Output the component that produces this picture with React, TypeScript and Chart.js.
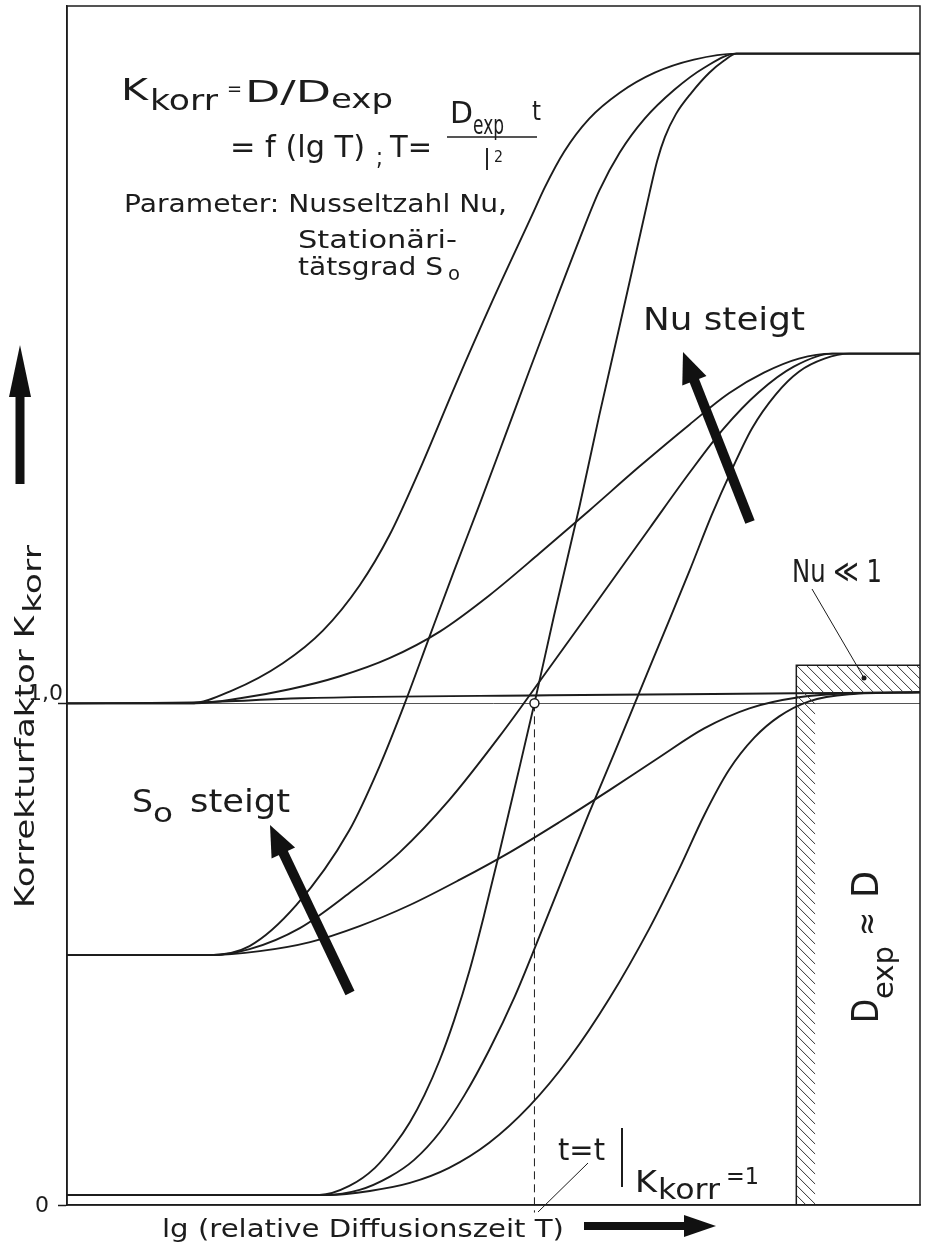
import { useEffect, useRef } from "react";
import { Chart, registerables } from "chart.js";

Chart.register(...registerables);

const FONT = '"DejaVu Sans", "Liberation Sans", sans-serif';
const INK = "#1c1c1c";

// axes (x: lg T, arbitrary units; y: K_korr)
const xRange = [0, 10];
const yRange = [0, 2.39];
const yTickValues = [0, 1];
const yTickLabels = ["0", "1,0"];

// start K = 1 (left plateau at 1,0)
const s1NuHighX = [0, 1.44, 1.94, 2.53, 3.0, 3.43, 3.78, 4.13, 4.55, 4.99, 5.46, 5.6, 5.83, 6.12, 6.48, 6.89, 7.35, 7.85, 10];
const s1NuHighY = [1.0, 1.0, 1.026, 1.08, 1.145, 1.235, 1.335, 1.464, 1.633, 1.803, 1.976, 2.028, 2.1, 2.165, 2.217, 2.257, 2.283, 2.295, 2.295];
const s1NuMidX = [0, 1.5, 2.03, 2.61, 3.2, 3.78, 4.37, 4.95, 5.54, 6.12, 6.71, 7.3, 7.76, 8.17, 8.58, 8.97, 10];
const s1NuMidY = [1.0, 1.0, 1.01, 1.028, 1.054, 1.09, 1.143, 1.215, 1.299, 1.384, 1.472, 1.556, 1.618, 1.659, 1.687, 1.697, 1.697];
const s1NuLowX = [0, 1.56, 2.73, 5.66, 8.55, 10];
const s1NuLowY = [1.0, 1.002, 1.01, 1.016, 1.02, 1.022];

// start K = 0,5
const s05NuHighX = [0, 1.67, 2.14, 2.69, 3.31, 3.66, 3.96, 4.25, 4.54, 4.84, 5.13, 5.42, 5.74, 6.01, 6.24, 6.48, 6.77, 7.12, 7.47, 7.85, 10];
const s05NuHighY = [0.498, 0.498, 0.516, 0.598, 0.747, 0.873, 1.0, 1.133, 1.265, 1.398, 1.53, 1.663, 1.807, 1.926, 2.022, 2.098, 2.165, 2.223, 2.267, 2.295, 2.295];
const s05NuMidX = [0, 1.67, 2.14, 2.73, 3.31, 3.9, 4.48, 5.07, 5.66, 6.24, 6.83, 7.3, 7.7, 8.11, 8.52, 8.97, 10];
const s05NuMidY = [0.498, 0.498, 0.51, 0.552, 0.622, 0.703, 0.807, 0.934, 1.072, 1.209, 1.349, 1.46, 1.548, 1.62, 1.671, 1.697, 1.697];
const s05NuLowX = [0, 1.67, 2.26, 2.85, 3.43, 4.02, 4.6, 5.19, 5.77, 6.36, 6.94, 7.47, 8.0, 8.58, 9.17, 10];
const s05NuLowY = [0.498, 0.498, 0.506, 0.524, 0.556, 0.598, 0.648, 0.703, 0.763, 0.827, 0.892, 0.95, 0.99, 1.012, 1.02, 1.022];

// start K ~ 0
const s0NuHighX = [0, 2.96, 3.31, 3.61, 3.84, 4.02, 4.19, 4.37, 4.54, 4.72, 4.89, 5.07, 5.27, 5.48, 5.71, 6.01, 6.24, 6.48, 6.69, 6.83, 6.92, 7.01, 7.14, 7.32, 7.53, 7.7, 7.85, 10];
const s0NuHighY = [0.02, 0.02, 0.038, 0.074, 0.12, 0.165, 0.219, 0.289, 0.369, 0.468, 0.578, 0.703, 0.847, 1.0, 1.175, 1.394, 1.574, 1.753, 1.912, 2.018, 2.082, 2.129, 2.175, 2.217, 2.257, 2.281, 2.295, 2.295];
const s0NuMidX = [0, 3.02, 3.43, 3.78, 4.07, 4.37, 4.66, 4.95, 5.25, 5.54, 5.83, 6.12, 6.42, 6.71, 7.0, 7.3, 7.56, 7.8, 8.03, 8.31, 8.58, 8.88, 9.17, 10];
const s0NuMidY = [0.02, 0.02, 0.03, 0.056, 0.09, 0.145, 0.219, 0.309, 0.416, 0.536, 0.659, 0.781, 0.902, 1.022, 1.141, 1.265, 1.376, 1.468, 1.548, 1.616, 1.661, 1.687, 1.697, 1.697];
const s0NuLowX = [0, 3.08, 3.55, 4.02, 4.48, 4.95, 5.42, 5.89, 6.36, 6.83, 7.18, 7.47, 7.76, 8.06, 8.35, 8.7, 9.17, 10];
const s0NuLowY = [0.02, 0.02, 0.028, 0.044, 0.074, 0.124, 0.197, 0.293, 0.412, 0.552, 0.671, 0.777, 0.867, 0.932, 0.974, 1.004, 1.018, 1.022];

// point t = t | K_korr = 1
const markerX = [5.48];
const markerY = [1.0];

// hatched region D_exp ≈ D
const hatchFromX = 8.55;
const hatchBandToX = 8.77;
const hatchTopY = 1.076;
const hatchInnerY = 1.022;

const curves = [
  [s1NuHighX, s1NuHighY], [s1NuMidX, s1NuMidY], [s1NuLowX, s1NuLowY],
  [s05NuHighX, s05NuHighY], [s05NuMidX, s05NuMidY], [s05NuLowX, s05NuLowY],
  [s0NuHighX, s0NuHighY], [s0NuMidX, s0NuMidY], [s0NuLowX, s0NuLowY],
];

function fit(ctx: CanvasRenderingContext2D, text: string, x: number, y: number, size: number, width: number, rot = false) {
  ctx.save();
  ctx.font = `${size}px ${FONT}`;
  ctx.fillStyle = INK;
  ctx.textAlign = "left";
  ctx.textBaseline = "alphabetic";
  const w = ctx.measureText(text).width || 1;
  ctx.translate(x, y);
  if (rot) ctx.rotate(-Math.PI / 2);
  ctx.scale(width / w, 1);
  ctx.fillText(text, 0, 0);
  ctx.restore();
}

function arrow(ctx: CanvasRenderingContext2D, x1: number, y1: number, x2: number, y2: number, sw: number, hl: number, hw: number) {
  const a = Math.atan2(y2 - y1, x2 - x1);
  const c = Math.cos(a), s = Math.sin(a);
  const bx = x2 - hl * c, by = y2 - hl * s;
  ctx.save();
  ctx.strokeStyle = "#111";
  ctx.fillStyle = "#111";
  ctx.lineWidth = sw;
  ctx.lineCap = "butt";
  ctx.beginPath();
  ctx.moveTo(x1, y1);
  ctx.lineTo(bx + c, by + s);
  ctx.stroke();
  ctx.beginPath();
  ctx.moveTo(x2, y2);
  ctx.lineTo(bx + hw * s, by - hw * c);
  ctx.lineTo(bx - hw * s, by + hw * c);
  ctx.closePath();
  ctx.fill();
  ctx.restore();
}

const decorPlugin = {
  id: "decor",
  beforeDraw(chart: any) {
    const ctx = chart.ctx;
    ctx.save();
    ctx.fillStyle = "#fff";
    ctx.fillRect(0, 0, chart.width, chart.height);
    ctx.restore();
  },
  afterDatasetsDraw(chart: any) {
    const ctx: CanvasRenderingContext2D = chart.ctx;
    const xs = chart.scales.x, ys = chart.scales.y;
    const { right, bottom, top, left } = chart.chartArea;
    const xL = xs.getPixelForValue(hatchFromX);
    const xB = xs.getPixelForValue(hatchBandToX);
    const yT = ys.getPixelForValue(hatchTopY);
    const yI = ys.getPixelForValue(hatchInnerY);
    ctx.save();
    ctx.beginPath();
    ctx.rect(xL, yT, right - xL, yI - yT);
    ctx.rect(xL, yT, xB - xL, bottom - yT);
    ctx.clip();
    ctx.strokeStyle = "#333";
    ctx.lineWidth = 1;
    ctx.beginPath();
    for (let k = -700; k < 200; k += 10) {
      ctx.moveTo(xL + k, yT);
      ctx.lineTo(xL + k + 700, yT + 700);
    }
    ctx.stroke();
    ctx.restore();
    ctx.save();
    ctx.strokeStyle = INK;
    ctx.lineWidth = 1.5;
    ctx.beginPath();
    ctx.moveTo(xL, bottom);
    ctx.lineTo(xL, yT);
    ctx.lineTo(right, yT);
    ctx.stroke();
    ctx.strokeRect(left, top, right - left, bottom - top);
    ctx.restore();
  },
  afterDraw(chart: any) {
    const ctx: CanvasRenderingContext2D = chart.ctx;
    const ys = chart.scales.y;
    const left = chart.chartArea.left;
    yTickValues.forEach((v, i) => {
      const py = ys.getPixelForValue(v);
      ctx.save();
      ctx.font = `22px ${FONT}`;
      ctx.fillStyle = INK;
      ctx.textAlign = "right";
      if (v === 0) {
        ctx.textBaseline = "middle";
        ctx.fillText(yTickLabels[i], left - 18, py + 1);
      } else {
        ctx.textBaseline = "alphabetic";
        ctx.fillText(yTickLabels[i], left - 4, py - 3);
      }
      ctx.restore();
    });

    fit(ctx, "K", 121, 100, 31, 27);
    fit(ctx, "korr", 150, 110, 28, 68);
    fit(ctx, "=", 227, 95, 20, 15);
    fit(ctx, "D/D", 245, 102, 31, 86);
    fit(ctx, "exp", 331, 108, 27, 62);
    fit(ctx, "= f (lg T)", 230, 157, 31, 135);
    fit(ctx, ";", 376, 165, 24, 7);
    fit(ctx, "T=", 390, 157, 31, 42);
    fit(ctx, "D", 450, 123, 31, 23);
    fit(ctx, "exp", 473, 134, 27, 31);
    fit(ctx, "t", 532, 120, 27, 9);
    fit(ctx, "l", 484, 170, 28, 6);
    fit(ctx, "2", 494, 162, 16, 9);
    ctx.save();
    ctx.strokeStyle = INK;
    ctx.lineWidth = 1.5;
    ctx.beginPath();
    ctx.moveTo(447, 137);
    ctx.lineTo(537, 137);
    ctx.stroke();
    ctx.restore();

    fit(ctx, "Parameter: Nusseltzahl Nu,", 124, 212, 24, 383);
    fit(ctx, "Stationäri-", 298, 248, 24, 159);
    fit(ctx, "tätsgrad S", 298, 275, 24, 145);
    fit(ctx, "o", 448, 280, 19, 12);

    fit(ctx, "Nu steigt", 643, 330, 32, 162);
    fit(ctx, "S", 132, 812, 32, 21);
    fit(ctx, "o", 153, 822, 27, 20);
    fit(ctx, "steigt", 190, 812, 32, 100);
    fit(ctx, "Nu \u226A 1", 792, 582, 32, 90);

    ctx.save();
    ctx.strokeStyle = INK;
    ctx.lineWidth = 1;
    ctx.beginPath();
    ctx.moveTo(812, 589);
    ctx.lineTo(864, 678);
    ctx.stroke();
    ctx.fillStyle = INK;
    ctx.beginPath();
    ctx.arc(864, 678, 2.5, 0, Math.PI * 2);
    ctx.fill();
    ctx.beginPath();
    ctx.moveTo(588, 1163);
    ctx.lineTo(538, 1212);
    ctx.stroke();
    ctx.lineWidth = 2;
    ctx.beginPath();
    ctx.moveTo(622, 1128);
    ctx.lineTo(622, 1187);
    ctx.stroke();
    ctx.restore();

    fit(ctx, "t=t", 558, 1160, 30, 47);
    fit(ctx, "K", 635, 1192, 30, 22);
    fit(ctx, "korr", 658, 1199, 28, 62);
    fit(ctx, "=1", 726, 1184, 23, 33);

    fit(ctx, "D", 878, 1023, 38, 24, true);
    fit(ctx, "exp", 893, 999, 28, 53, true);
    fit(ctx, "\u2248", 878, 936, 34, 24, true);
    fit(ctx, "D", 878, 898, 38, 27, true);

    fit(ctx, "Korrekturfaktor K", 34, 908, 26, 292, true);
    fit(ctx, "korr", 41, 613, 24, 68, true);
    fit(ctx, "lg (relative Diffusionszeit T)", 162, 1237, 24, 402);

    arrow(ctx, 750, 522, 683, 352, 10, 31, 13);
    arrow(ctx, 350, 993, 270, 825, 10, 31, 13);
    arrow(ctx, 20, 484, 20, 345, 9, 52, 11);
    arrow(ctx, 584, 1226, 716, 1226, 8, 32, 11);
  },
};

export default function App() {
  const ref = useRef<HTMLCanvasElement | null>(null);
  useEffect(() => {
    if (!ref.current) return;
    const lineSets = curves.map(([xs, ys]) => ({
      data: xs.map((x, i) => ({ x, y: ys[i] })),
      showLine: true,
      borderColor: INK,
      borderWidth: 1.9,
      pointRadius: 0,
      cubicInterpolationMode: "monotone" as const,
      fill: false,
    }));
    const chart = new Chart(ref.current, {
      type: "scatter",
      data: {
        datasets: [
          {
            data: markerX.map((x, i) => ({ x, y: markerY[i] })),
            showLine: false,
            pointRadius: 4.5,
            pointBackgroundColor: "#fff",
            pointBorderColor: INK,
            pointBorderWidth: 1.5,
          } as any,
          {
            data: [
              { x: markerX[0], y: markerY[0] },
              { x: markerX[0], y: -0.015 },
            ],
            showLine: true,
            borderColor: INK,
            borderWidth: 1,
            borderDash: [8, 5],
            pointRadius: 0,
            tension: 0,
            clip: false,
          } as any,
          ...lineSets,
        ],
      },
      options: {
        animation: false,
        responsive: false,
        maintainAspectRatio: false,
        events: [],
        layout: { padding: { top: 5, right: 5, left: 0, bottom: 0 } },
        plugins: { legend: { display: false }, tooltip: { enabled: false } },
        scales: {
          x: {
            type: "linear",
            min: xRange[0],
            max: xRange[1],
            ticks: { display: false },
            grid: { display: false, drawTicks: false },
            border: { display: true, color: INK, width: 1.5 },
            afterFit: (s: any) => {
              s.height = 41;
            },
          },
          y: {
            type: "linear",
            min: yRange[0],
            max: yRange[1],
            afterBuildTicks: (s: any) => {
              s.ticks = yTickValues.map((v) => ({ value: v }));
            },
            ticks: { display: false },
            grid: {
              color: (c: any) => (c.tick && c.tick.value === 1 ? "#555" : "rgba(0,0,0,0)"),
              lineWidth: 1,
              drawTicks: true,
              tickLength: 9,
              tickColor: INK,
              tickWidth: 1.5,
            },
            border: { display: true, color: INK, width: 1.5 },
            afterFit: (s: any) => {
              s.width = 67;
            },
          },
        },
      } as any,
      plugins: [decorPlugin],
    });
    return () => chart.destroy();
  }, []);
  return (
    <div style={{ position: "absolute", left: 0, top: 0, width: 926, height: 1246 }}>
      <canvas ref={ref} width={926} height={1246} style={{ display: "block" }} />
    </div>
  );
}
